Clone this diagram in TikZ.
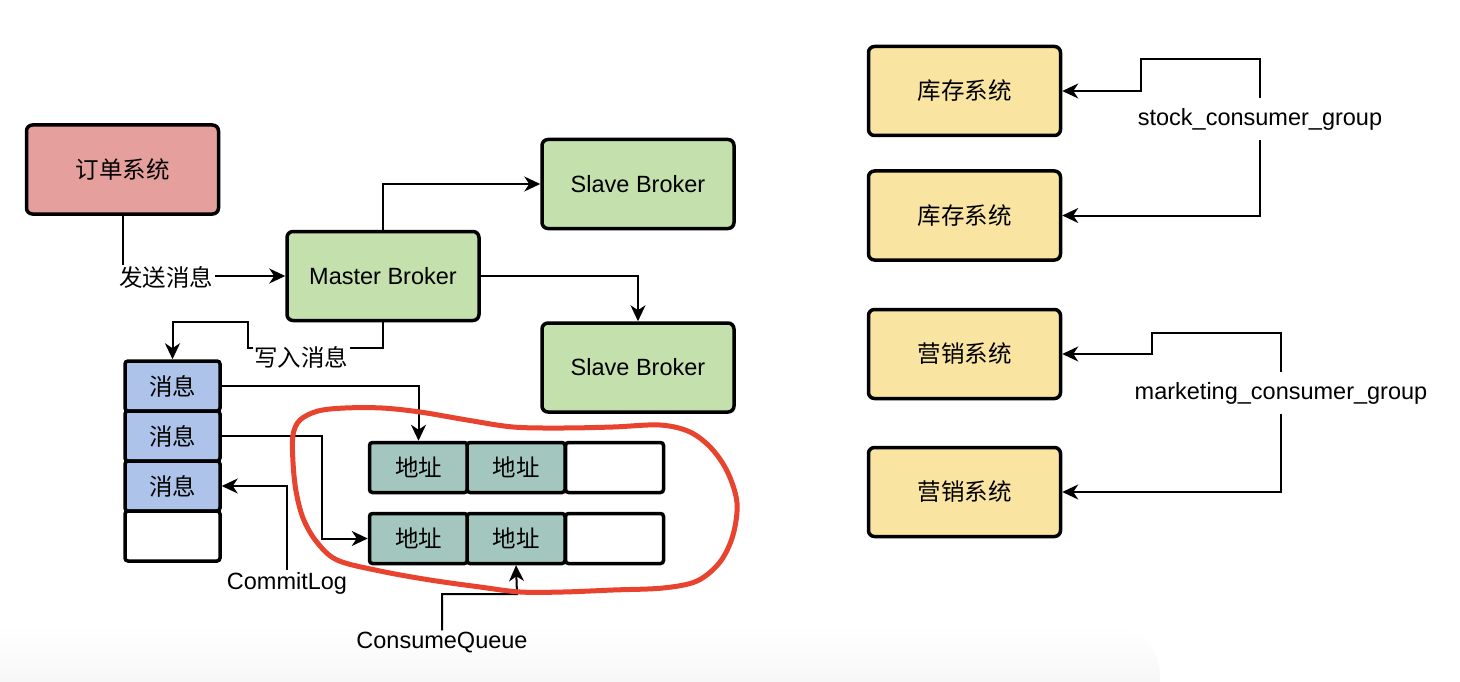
\documentclass[tikz,border=0pt]{standalone}
\usepackage{fontspec}
\setmainfont{Liberation Sans}
\newfontfamily\cjk{Noto Sans CJK SC}
\usetikzlibrary{arrows.meta}

\definecolor{ordfill}{HTML}{E5A09D}
\definecolor{brkfill}{HTML}{C4E0AD}
\definecolor{msgfill}{HTML}{ADC3E9}
\definecolor{adrfill}{HTML}{A3C7BE}
\definecolor{sysfill}{HTML}{F9E4A2}
\definecolor{loopred}{HTML}{E8432E}

\tikzset{
  txt/.style={font=\fontsize{23.5pt}{28pt}\selectfont},
  box/.style={txt, draw, line width=3.5pt, rounded corners=6pt,
    minimum width=192pt, minimum height=89pt, inner sep=0pt},
  cell/.style={txt, draw, line width=3.5pt, rounded corners=3pt,
    minimum width=95pt, minimum height=50pt, inner sep=0pt},
  qcell/.style={cell, minimum width=98pt},
  link/.style={line width=2pt, -{Stealth[length=16pt, width=15pt, inset=5pt]}},
  tag/.style={txt, fill=white, inner sep=1.5pt},
  grp/.style={txt, inner sep=0pt, minimum height=41pt}
}

\begin{document}
\begin{tikzpicture}[x=1pt, y=-1pt]
\useasboundingbox (0,0) rectangle (1460,682);
% soft shadow band along the lower edge
\shade[top color=white, bottom color=black!3]
  (0,682) -- (0,625) [rounded corners=50pt] -- (1160,625) [sharp corners] -- (1160,682) -- cycle;

% systems and brokers
\node[box, fill=ordfill] (ord) at (122.5,169.5) {\cjk 订单系统};
\node[box, fill=brkfill] (mst) at (383,276) {Master Broker};
\node[box, fill=brkfill] (sl1) at (638,184) {Slave Broker};
\node[box, fill=brkfill] (sl2) at (638,367.5) {Slave Broker};

% CommitLog cells
\node[cell, fill=msgfill] (cl1) at (172.5,386) {\cjk 消息};
\node[cell, fill=msgfill] (cl2) at (172.5,436) {\cjk 消息};
\node[cell, fill=msgfill] (cl3) at (172.5,486) {\cjk 消息};
\node[cell, fill=white]   (cl4) at (172.5,536) {};

% ConsumeQueue cells
\node[qcell, fill=adrfill] (q11) at (418.5,467.5) {\cjk 地址};
\node[qcell, fill=adrfill] (q12) at (516,467.5) {\cjk 地址};
\node[qcell, fill=white]   (q13) at (614.5,467.5) {};
\node[qcell, fill=adrfill] (q21) at (418.5,538.5) {\cjk 地址};
\node[qcell, fill=adrfill] (q22) at (516,538.5) {\cjk 地址};
\node[qcell, fill=white]   (q23) at (614.5,538.5) {};

% consumer systems
\node[box, fill=sysfill] (k1) at (964.5,91) {\cjk 库存系统};
\node[box, fill=sysfill] (k2) at (964.5,215.5) {\cjk 库存系统};
\node[box, fill=sysfill] (y1) at (964.5,354) {\cjk 营销系统};
\node[box, fill=sysfill] (y2) at (964.5,492) {\cjk 营销系统};

% producer to master, master to slaves
\draw[link] (ord.south) |- (mst.west);
\node[tag] (send) at (166,277) {\cjk 发送消息};
\draw[link] (mst.north) |- (sl1.west);
\draw[link] (mst.east) -| (sl2.north);

% master writes into the CommitLog
\draw[link] (mst.south) |- (248,348) -- (248,322) -| (cl1.north);
\node[tag] (write) at (301,357) {\cjk 写入消息};

% CommitLog entries indexed by the queues
\coordinate (b2) at (322,500);
\draw[link] (cl1.east) -| (q11.north);
\draw[link] (cl2.east) -| (b2) |- (q21.west);

% captions
\node[txt, inner sep=2pt] (clt) at (287,583) {CommitLog};
\draw[link] (clt.north) |- (cl3.east);
\node[txt, inner sep=2pt] (cqt) at (442,643) {ConsumeQueue};
\draw[link] (cqt.north) |- (517,594) -- (q22.south);

% consumer groups
\node[grp] (stk) at (1260,119) {stock\_consumer\_group};
\draw[link] (stk.north) |- (1141,59) |- (k1.east);
\draw[link] (stk.south) |- (k2.east);
\node[grp] (mkt) at (1281,393) {marketing\_consumer\_group};
\draw[link] (mkt.north) |- (1152,333) |- (y1.east);
\draw[link] (mkt.south) |- (y2.east);

% hand-drawn loop around the ConsumeQueue
\draw[loopred, line width=5pt, line cap=round, line join=round]
  plot[smooth cycle, tension=0.55] coordinates {
    (300,420) (318,411) (345,408) (382,408) (420,412) (467,420) (513,427)
    (563,428) (613,427) (660,425) (690,432) (712,449) (728,473) (737,503)
    (733,535) (720,562) (697,581) (663,588) (613,590) (563,592) (520,592)
    (480,587) (430,580) (380,571) (337,560) (316,541) (303,518) (296,491)
    (293,462) (293,435)};
\end{tikzpicture}
\end{document}
